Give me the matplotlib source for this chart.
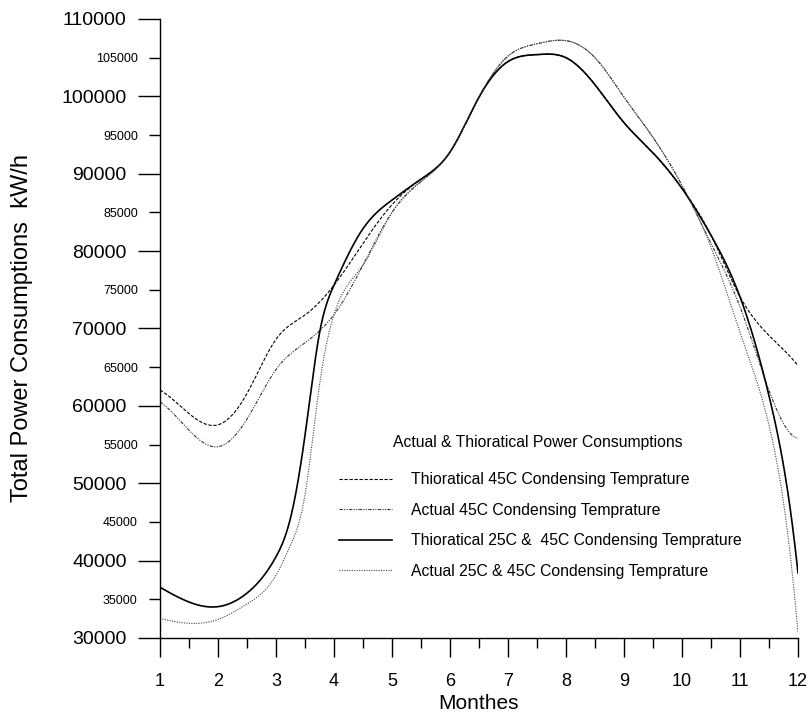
import numpy as np
import matplotlib
matplotlib.use("Agg")
import matplotlib.pyplot as plt
from matplotlib.ticker import MultipleLocator, FixedLocator

plt.rcParams['font.family'] = ['Liberation Sans', 'DejaVu Sans']

# values (kW/h); denser where the curves are steep
x_thio_45 = [1, 1.5, 2, 2.5, 3, 3.5, 4, 4.5, 5, 5.5, 6, 6.5, 7, 7.5, 8, 8.5, 9, 9.5, 10, 10.5, 11, 11.5, 12]
thio_45 = [62040, 59000, 57550, 61600, 68600, 71750, 75600, 81000, 86000, 89300, 92800, 99900,
           104500, 105400, 105000, 101500, 96600, 92700, 88100, 82050, 74100, 69100, 65200]

x_actual_45 = [1, 1.5, 2, 2.5, 3, 3.5, 4, 4.5, 5, 5.5, 6, 6.5, 7, 7.5, 8, 8.5, 9, 9.5, 10, 10.5, 11, 11.5, 12]
actual_45 = [60530, 56850, 54720, 58300, 64700, 68150, 71800, 78200, 85000, 89000, 92800, 99900,
             105200, 106800, 107200, 105000, 99900, 94700, 88500, 81000, 72800, 62000, 55800]

x_thio_25_45 = [1, 1.5, 2, 2.5, 3, 3.25, 3.5, 3.75, 4, 4.5, 5, 5.5, 6, 6.5, 7, 7.5, 8, 8.5, 9, 9.5,
                10, 10.5, 11, 11.5, 11.75, 12]
thio_25_45 = [36550, 34650, 34050, 35800, 40500, 45500, 56200, 69400, 75600, 82900, 86600, 89300,
              92800, 99900, 104500, 105400, 105000, 101500, 96600, 92700, 88100, 82050, 74100,
              61300, 52300, 38400]

x_actual_25_45 = [1, 1.5, 2, 2.5, 3, 3.25, 3.5, 3.75, 4, 4.5, 5, 5.5, 6, 6.5, 7, 7.5, 8, 8.5, 9, 9.5,
                  10, 10.5, 11, 11.5, 11.75, 12]
actual_25_45 = [32540, 31900, 32400, 34400, 38100, 42000, 48500, 62700, 71800, 78200, 85000, 89000,
                92800, 99900, 105200, 106800, 107200, 105000, 99900, 94700, 88500, 80500, 69500,
                57500, 47500, 30650]

labels = ["Thioratical 45C Condensing Temprature",
          "Actual 45C Condensing Temprature",
          "Thioratical 25C &  45C Condensing Temprature",
          "Actual 25C & 45C Condensing Temprature"]
legend_title = "Actual & Thioratical Power Consumptions"

major_y = list(range(30000, 110001, 10000))
minor_y = list(range(35000, 105001, 10000))


def spline_line(x, y, n=800):
    # cubic spline (not-a-knot ends) through the read points, like the original's spline connection
    x = np.asarray(x, float)
    y = np.asarray(y, float)
    k = len(x)
    h = np.diff(x)
    A = np.zeros((k, k))
    b = np.zeros(k)
    A[0, 0], A[0, 1], A[0, 2] = h[1], -(h[0] + h[1]), h[0]
    A[-1, -3], A[-1, -2], A[-1, -1] = h[-1], -(h[-2] + h[-1]), h[-2]
    for i in range(1, k - 1):
        A[i, i - 1] = h[i - 1]
        A[i, i] = 2 * (h[i - 1] + h[i])
        A[i, i + 1] = h[i]
        b[i] = 6 * ((y[i + 1] - y[i]) / h[i] - (y[i] - y[i - 1]) / h[i - 1])
    m = np.linalg.solve(A, b)
    xs = np.linspace(x[0], x[-1], n)
    i = np.clip(np.searchsorted(x, xs) - 1, 0, k - 2)
    hh = x[i + 1] - x[i]
    t0, t1 = x[i + 1] - xs, xs - x[i]
    ys = (m[i] * t0 ** 3 + m[i + 1] * t1 ** 3) / (6 * hh) \
        + (y[i] / hh - m[i] * hh / 6) * t0 + (y[i + 1] / hh - m[i + 1] * hh / 6) * t1
    return xs, ys


fig = plt.figure(figsize=(8.11, 7.2), dpi=100)
ax = fig.add_axes([160 / 811, 1 - 638 / 720, 638 / 811, 619 / 720])

series = [(x_thio_45, thio_45), (x_actual_45, actual_45),
          (x_thio_25_45, thio_25_45), (x_actual_25_45, actual_25_45)]
styles = [
    dict(color='black', lw=0.8, ls=(0, (3, 1.5))),
    dict(color='#333333', lw=0.8, ls=(0, (3, 1.2, 1, 1.2, 1, 1.2))),
    dict(color='black', lw=1.2, ls='-'),
    dict(color='#444444', lw=0.8, ls=(0, (1, 1.2))),
]
for (xv, yv), lab, st in zip(series, labels, styles):
    xs, ys = spline_line(xv, yv)
    ax.plot(xs, ys, label=lab, **st)

ax.set_xlim(1, 12)
ax.set_ylim(30000, 110000)
for s in ['top', 'right']:
    ax.spines[s].set_visible(False)
for s in ['left', 'bottom']:
    ax.spines[s].set_linewidth(1.0)

ax.xaxis.set_major_locator(MultipleLocator(1))
ax.xaxis.set_minor_locator(MultipleLocator(0.5))
ax.yaxis.set_major_locator(FixedLocator(major_y))
ax.yaxis.set_minor_locator(FixedLocator(minor_y))
ax.set_yticklabels([str(v) for v in major_y], fontsize=14)
ax.set_yticklabels([str(v) for v in minor_y], minor=True, fontsize=9)
ax.tick_params(axis='x', which='major', length=14, width=1, pad=11, labelsize=13)
ax.tick_params(axis='x', which='minor', length=7, width=1)
ax.tick_params(axis='y', which='major', length=16, width=1, pad=8)
ax.tick_params(axis='y', which='minor', length=8, width=1, pad=8)

ax.set_xlabel("Monthes", fontsize=15)
ax.xaxis.set_label_coords(0.5, -0.09)
ax.set_ylabel("Total Power Consumptions  kW/h", fontsize=17)
ax.yaxis.set_label_coords(-0.199, 0.5)

fig.text(538 / 811, 1 - 443 / 720, legend_title, fontsize=11.3, ha='center', va='center')
ax.legend(loc='upper left', bbox_to_anchor=(339 / 811, 1 - 472 / 720),
          bbox_transform=fig.transFigure, frameon=False, fontsize=11.3,
          handlelength=3.4, handletextpad=1.2, labelspacing=0.99,
          borderpad=0, borderaxespad=0)

fig.savefig("out.png", dpi=100)
